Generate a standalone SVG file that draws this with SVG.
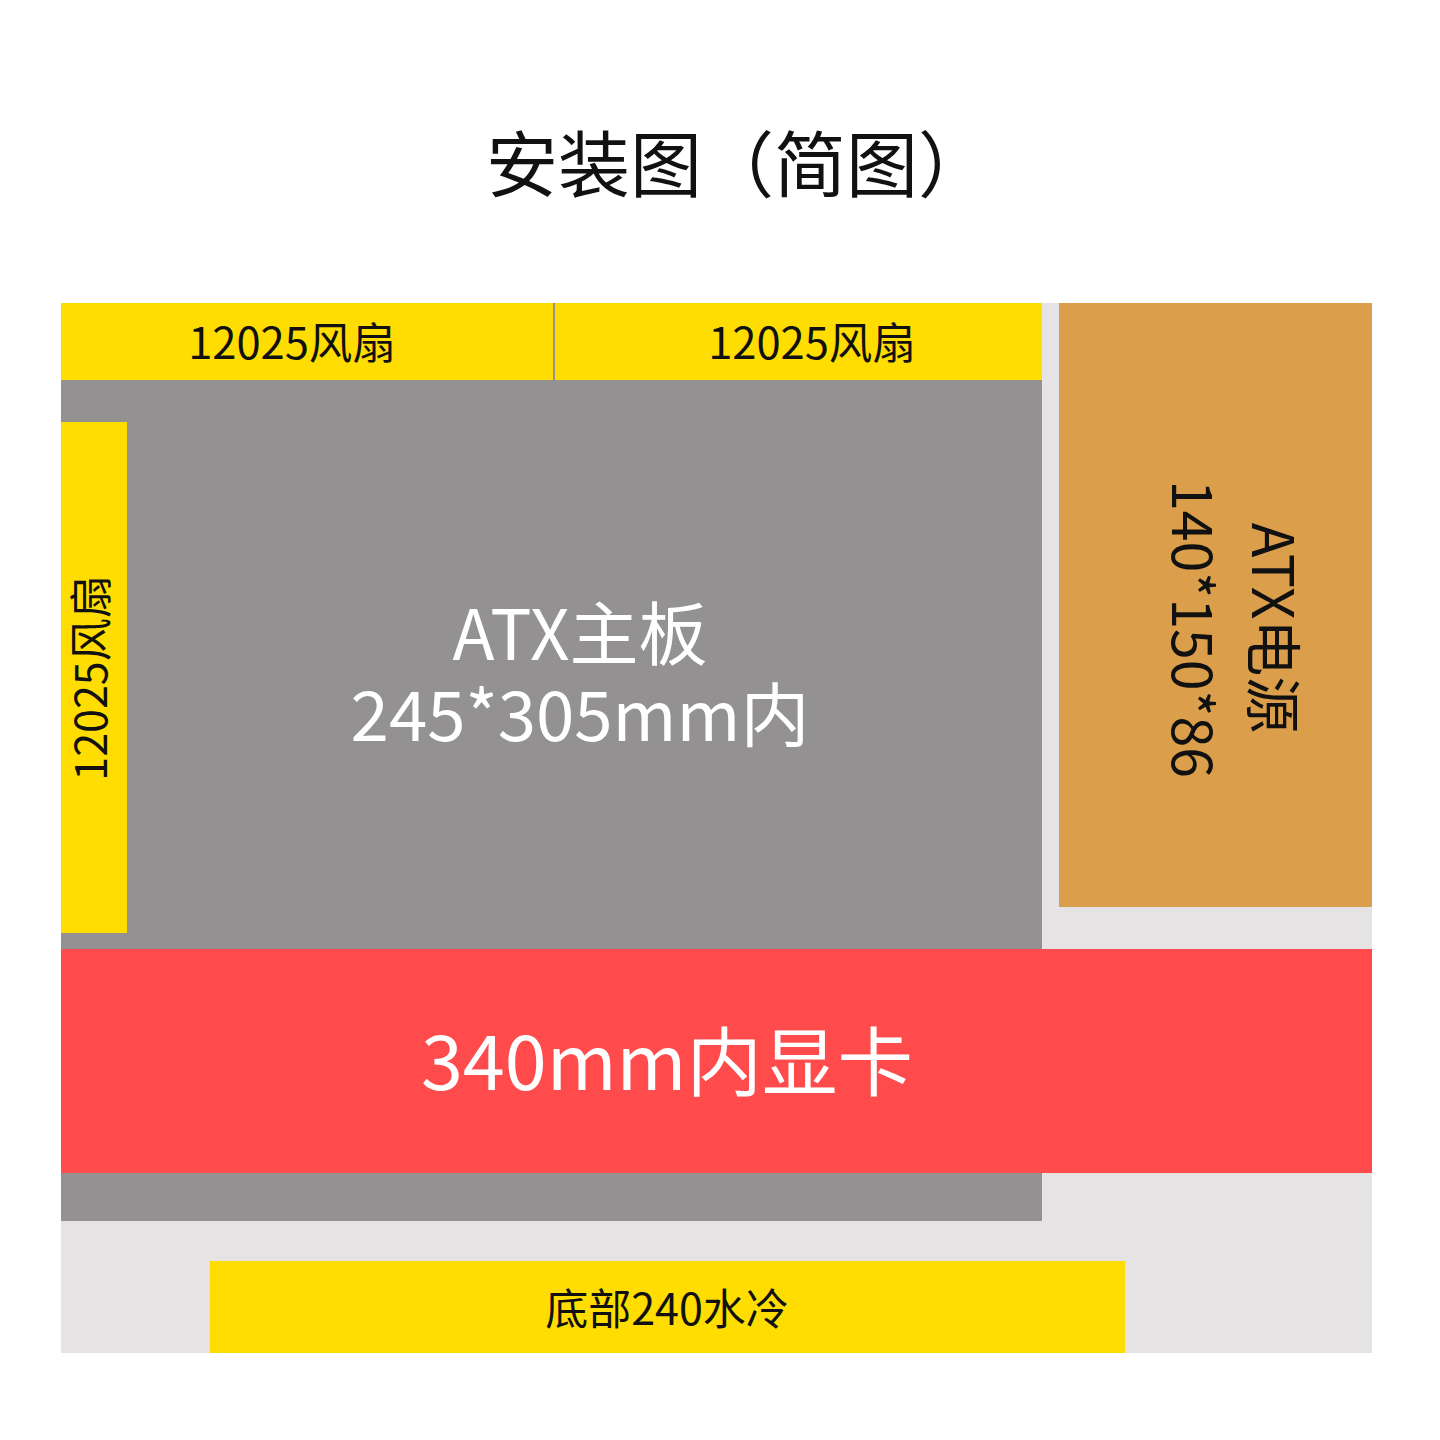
<svg xmlns="http://www.w3.org/2000/svg" width="1440" height="1440" viewBox="0 0 1440 1440">
<style>
text{font-family:"Noto Sans CJK SC","Noto Sans",sans-serif;font-weight:400}
.dk{fill:#111111}
.wt{fill:#ffffff}
.fan{fill:#FFDD00}
.mb{fill:#939191}
.bg{fill:#E5E3E3}
.psu{fill:#DB9F4B}
.gpu{fill:#FF4B4B}
</style>
<rect width="1440" height="1440" fill="#ffffff"/>
<text id="title" class="dk" x="738" y="191" font-size="72" text-anchor="middle">安装图（简图）</text>
<g id="case"><rect class="bg" x="61" y="303" width="1311" height="1050"/></g>
<g id="motherboard">
<rect class="mb" x="61" y="380" width="981" height="841"/>
<text class="wt" x="580" y="660" font-size="69" text-anchor="middle">ATX主板</text>
<text class="wt" x="580" y="741" font-size="69" text-anchor="middle">245*305mm内</text>
</g>
<g id="fan-top-1">
<rect class="fan" x="61" y="303" width="492" height="77"/>
<text class="dk" x="292" y="359" font-size="43.5" text-anchor="middle">12025风扇</text>
</g>
<g id="fan-top-2">
<rect class="fan" x="555" y="303" width="487" height="77"/>
<text class="dk" x="812" y="359" font-size="43.5" text-anchor="middle">12025风扇</text>
</g>
<g id="connectors"><line x1="554" y1="303" x2="554" y2="380" stroke="#939191" stroke-width="2"/></g>
<g id="fan-left">
<rect class="fan" x="61" y="422" width="66" height="511"/>
<text class="dk" transform="translate(107,678) rotate(-90)" x="0" y="0" font-size="43" text-anchor="middle">12025风扇</text>
</g>
<g id="psu">
<rect class="psu" x="1059" y="303" width="313" height="604"/>
<text class="dk" transform="translate(1252,628) rotate(90)" x="0" y="0" font-size="57" text-anchor="middle">ATX电源</text>
<text class="dk" transform="translate(1172,629) rotate(90)" x="0" y="0" font-size="55.5" text-anchor="middle">140*150*86</text>
</g>
<g id="gpu">
<rect class="gpu" x="61" y="949" width="1311" height="224"/>
<text class="wt" x="667" y="1090" font-size="75.5" text-anchor="middle">340mm内显卡</text>
</g>
<g id="radiator">
<rect class="fan" x="210" y="1261" width="915" height="92"/>
<text class="dk" x="667" y="1325" font-size="43" text-anchor="middle">底部240水冷</text>
</g>
</svg>
